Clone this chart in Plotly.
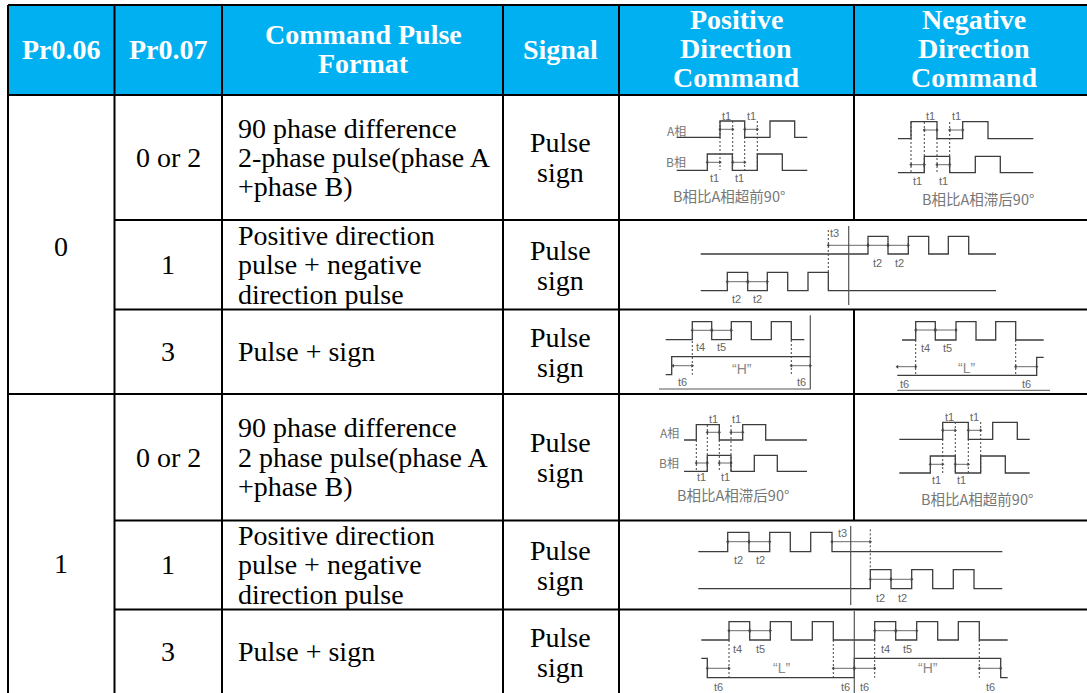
import plotly.graph_objects as go

# ---------- table structure ----------
col_edges = [8, 114.5, 222, 503, 619, 854, 1087]
row_edges = [5, 95, 220, 309.5, 394, 520.5, 609.5, 693]
header_fill = "#00B0F0"

header_center_x = [61, 168, 363, 560, 736, 974]
header_lines = [
    [("Pr0.06", 49.5)],
    [("Pr0.07", 49.5)],
    [("Command Pulse", 34.5), ("Format", 63.5)],
    [("Signal", 49.5)],
    [("Positive", 19.5), ("Direction", 48.5), ("Command", 77.5)],
    [("Negative", 19.5), ("Direction", 48.5), ("Command", 77.5)],
]
pr06_labels = [("0", 61, 246), ("1", 61, 563.5)]
pr07_labels = [("0 or 2", 157.5), ("1", 264.5), ("3", 351.5), ("0 or 2", 457.5), ("1", 564.5), ("3", 651.5)]
format_lines = [
    ("90 phase difference", 128.5), ("2-phase pulse(phase A", 157.5), ("+phase B)", 186.5),
    ("Positive direction", 235.5), ("pulse + negative", 264.5), ("direction pulse", 294.5),
    ("Pulse + sign", 351.5),
    ("90 phase difference", 427.5), ("2 phase pulse(phase A", 457.5), ("+phase B)", 486.5),
    ("Positive direction", 535.5), ("pulse + negative", 564.5), ("direction pulse", 594.5),
    ("Pulse + sign", 651.5),
]
signal_lines = [("Pulse", 142.5), ("sign", 172.5), ("Pulse", 250.5), ("sign", 280.5), ("Pulse", 337.5), ("sign", 367.5),
                ("Pulse", 442.5), ("sign", 472.5), ("Pulse", 550.5), ("sign", 580.5), ("Pulse", 637.5), ("sign", 667.5)]

# ---------- timing diagrams: wave = (start level, other level, [start, edges..., end]) ----------
waves = [
    (137.3, 121, [676.7, 720, 744.7, 770, 794.7, 807.3]),
    (170.3, 154, [676.7, 707.3, 732.3, 757.3, 782.3, 807.3]),
    (138.7, 121.7, [898, 911, 937, 962.7, 988, 1033.3]),
    (172.7, 156.3, [898, 924.3, 949.7, 975.3, 1000.3, 1033.3]),
    (254, 236.3, [700.7, 868, 888, 908.3, 928.7, 948.3, 968.7, 996]),
    (290.7, 272.3, [700.7, 727.3, 747.7, 767.3, 787.7, 808, 828.3, 996]),
    (339.7, 321.7, [665.7, 692.3, 711.7, 731.3, 751.3, 771.3, 791.3, 804.3]),
    (374.7, 356.7, [665.7, 671.7, 810.7]),
    (340, 321.7, [902, 915.7, 935.3, 956, 976, 995.7, 1015.7, 1043.7]),
    (375.3, 357.3, [897.3, 1036.7, 1043.7]),
    (440, 424.7, [684, 696.3, 719.3, 742.7, 765.7, 807]),
    (471.3, 455.3, [684, 707.3, 731, 754.3, 777.3, 807]),
    (439.3, 422.3, [899.3, 942.7, 968.3, 992.7, 1017.3, 1029.7]),
    (473, 456, [899.3, 930.3, 955.3, 980.7, 1005.3, 1029.7]),
    (551.7, 532.3, [698.3, 727.7, 749, 769.7, 790.3, 810.7, 832, 1002.3]),
    (588.7, 569.7, [698.3, 870.3, 891, 911.7, 932.7, 953.3, 974, 1002.3]),
    (640, 621.7, [701.3, 729, 749.7, 770.3, 791.3, 812.3, 833.3, 874.7, 895.7, 916.7, 937.7, 958.3, 979.3, 1007.7]),
    (658.3, 677.7, [701.3, 707.3, 854.3, 1000.7, 1007.7]),
]
solid_vertical = [(848.7, 226, 305), (810.3, 315.3, 389), (850.7, 526, 605), (854.3, 611, 693)]
base_lines = [(659, 810.7, 389), (897.3, 1050, 390.3)]
dashes = [
    (720, 121, 170), (732.7, 121, 170), (744.7, 137, 170), (757.3, 121, 170),
    (911, 122, 173), (924.3, 122, 173), (937, 138, 173), (949.7, 122, 173),
    (828.3, 230, 272), (692.3, 341, 374.7), (791.3, 340, 374.7),
    (915.7, 340, 375), (1015.7, 340, 375),
    (696.3, 440, 471), (707.3, 425, 471), (719.3, 440, 471), (731, 425, 471),
    (942.7, 439, 473), (955.3, 422, 473), (968.3, 439, 473), (980.7, 422, 473),
    (870.3, 529.3, 569.7),
    (729, 640, 677.7), (833.3, 640, 677.7), (874.7, 640, 677.7), (979.3, 640, 677.7),
]
spans = [
    (720, 732.7, 129.3), (744.7, 757.3, 129.3), (707.3, 720, 162.3), (732.7, 744.7, 162.3),
    (924.3, 937, 130), (949.7, 962.7, 130), (911, 924.3, 164.7), (937, 949.7, 164.7),
    (828.3, 868, 245.3), (868, 888, 245.3), (888, 908.3, 245.3), (727.3, 747.7, 281.7), (747.7, 767.3, 281.7),
    (692.3, 711.7, 330.3), (711.7, 731.3, 330.3), (673, 692.3, 365.7), (791.3, 810.3, 365.7),
    (915.7, 935.3, 330), (935.3, 956, 330), (897.3, 915.7, 366.7), (1015.7, 1036.7, 366.7),
    (707.3, 719.3, 432.3), (731, 742.7, 432.3), (696.3, 707.3, 463), (719.3, 731, 463),
    (942.7, 955.3, 430.3), (968.3, 980.7, 430.3), (930.3, 942.7, 464.3), (955.3, 968.3, 464.3),
    (727.7, 749, 541.7), (749, 769.7, 541.7), (832, 870.3, 541.7), (870.3, 891, 579.3), (891, 911.7, 579.3),
    (729, 749.7, 630.7), (749.7, 770.3, 630.7), (874.7, 895.7, 630.7), (895.7, 916.7, 630.7),
    (707.3, 729, 668.3), (833.3, 854.3, 668.3), (854.3, 874.7, 668.3), (979.3, 1000.7, 668.3),
]
small_labels = [
    ("t1", 726, 115.7), ("t1", 751.7, 115.7), ("t1", 714, 178), ("t1", 739, 178),
    ("t1", 930, 115.7), ("t1", 956, 115.7), ("t1", 917.3, 180.7), ("t1", 943.3, 180.7),
    ("t3", 834, 233.3), ("t2", 877.7, 263), ("t2", 899.3, 263), ("t2", 736.7, 299), ("t2", 757.7, 299),
    ("t4", 700, 347), ("t5", 721.3, 347), ("t6", 682.3, 382.3), ("t6", 801, 382.3),
    ("t4", 925.7, 348), ("t5", 947, 348), ("t6", 904.7, 384), ("t6", 1026, 384),
    ("t1", 713, 419.3), ("t1", 736.7, 419.3), ("t1", 701.7, 477.3), ("t1", 725.3, 477.3),
    ("t1", 949.3, 416.7), ("t1", 974.7, 416.7), ("t1", 936.7, 480.3), ("t1", 961.7, 480.3),
    ("t3", 842, 532.7), ("t2", 738, 560.3), ("t2", 760.3, 560.3), ("t2", 880.3, 598), ("t2", 902, 598),
    ("t4", 737.7, 649), ("t5", 760, 649), ("t4", 885, 649), ("t5", 907.3, 649),
    ("t6", 718.7, 686.7), ("t6", 845, 686.7), ("t6", 864.3, 686.7), ("t6", 990, 686.7),
]
level_labels = [("“H”", 742, 369), ("“L”", 966.7, 368), ("“L”", 781.7, 668.3), ("“H”", 928.3, 668.3)]
phase_labels = [("A相", 676, 130), ("B相", 675.7, 161.7), ("A相", 669.3, 432.7), ("B相", 669, 462.7)]
caption_labels = [
    ("B相比A相超前90°", 729, 195.3), ("B相比A相滞后90°", 978.3, 198.3),
    ("B相比A相滞后90°", 733.3, 494.3), ("B相比A相超前90°", 976.7, 498.3),
]

# ---------- drawing ----------
SERIF = "Liberation Serif"
SANS = "Liberation Sans"
CJK = "Noto Sans CJK SC"
fig = go.Figure()


def line_trace(x, y, color, width, dash="solid", shape="linear"):
    fig.add_trace(go.Scatter(x=x, y=y, mode="lines", hoverinfo="skip", showlegend=False,
                             line=dict(color=color, width=width, dash=dash, shape=shape)))


def text(t, x, y, size, color="#000000", family=SERIF, anchor="center"):
    fig.add_annotation(x=x, y=y, text=t, showarrow=False, xanchor=anchor, yanchor="middle",
                       font=dict(family=family, size=size, color=color), borderpad=0)


# header band
fig.add_shape(type="rect", x0=col_edges[0], x1=col_edges[-1], y0=row_edges[0], y1=row_edges[1],
              fillcolor=header_fill, line_width=0, layer="below")

# table rules
B = "#000000"
for yy in (row_edges[0], row_edges[1], row_edges[4]):
    line_trace([col_edges[0], col_edges[-1]], [yy, yy], B, 2)
for yy in (row_edges[2], row_edges[3], row_edges[5], row_edges[6]):
    line_trace([col_edges[1], col_edges[-1]], [yy, yy], B, 2)
for xx in col_edges[:5]:
    line_trace([xx, xx], [row_edges[0], row_edges[-1]], B, 2)
line_trace([col_edges[5], col_edges[5]], [row_edges[0], row_edges[2]], B, 2)
line_trace([col_edges[5], col_edges[5]], [row_edges[3], row_edges[5]], B, 2)

# waveforms
W = "#3c3c3c"
for start, other, xs in waves:
    levels = [start if i % 2 == 0 else other for i in range(len(xs) - 1)]
    levels.append(levels[-1])
    line_trace(xs, levels, W, 1.3, shape="hv")
for x0, y0, y1 in solid_vertical:
    line_trace([x0, x0], [y0, y1], "#555555", 1.2)
for x0, x1, y0 in base_lines:
    line_trace([x0, x1], [y0, y0], "#555555", 1)

dx, dy = [], []
for x0, y0, y1 in dashes:
    dx += [x0, x0, None]
    dy += [y0, y1, None]
line_trace(dx, dy, "#444444", 1, dash="2px,2px")

ax, ay, asym = [], [], []
for x0, x1, y0 in spans:
    ax += [x0, x1, None]
    ay += [y0, y0, None]
    asym += ["triangle-left", "triangle-right", "circle"]
fig.add_trace(go.Scatter(x=ax, y=ay, mode="lines+markers", hoverinfo="skip", showlegend=False,
                         line=dict(color="#444444", width=0.8),
                         marker=dict(symbol=asym, size=3.5, color="#444444", line_width=0)))

# table text
for cx, lines in zip(header_center_x, header_lines):
    for t, yy in lines:
        text(f"<b>{t}</b>", cx, yy, 28, "#FFFFFF")
for t, xx, yy in pr06_labels:
    text(t, xx, yy, 28)
for t, yy in pr07_labels:
    text(t, header_center_x[1], yy, 28)
for t, yy in format_lines:
    text(t, 237, yy, 28, anchor="left")
for t, yy in signal_lines:
    text(t, header_center_x[3], yy, 28)

# diagram text
for t, xx, yy in small_labels:
    text(t, xx, yy, 11, "#666666", SANS)
for t, xx, yy in level_labels:
    text(t, xx, yy, 14, "#888888", SANS)
for t, xx, yy in phase_labels:
    text(t, xx, yy, 12, "#777777", CJK)
for t, xx, yy in caption_labels:
    text(t, xx, yy, 14.5, "#777777", CJK)

fig.update_layout(
    width=1087, height=693, margin=dict(l=0, r=0, t=0, b=0),
    paper_bgcolor="#FFFFFF", plot_bgcolor="#FFFFFF", showlegend=False,
    xaxis=dict(range=[0, 1087], visible=False, fixedrange=True),
    yaxis=dict(range=[693, 0], visible=False, fixedrange=True),
)
fig.write_html("out.html", config={"displayModeBar": False},
               post_script="document.body.style.margin='0';")
